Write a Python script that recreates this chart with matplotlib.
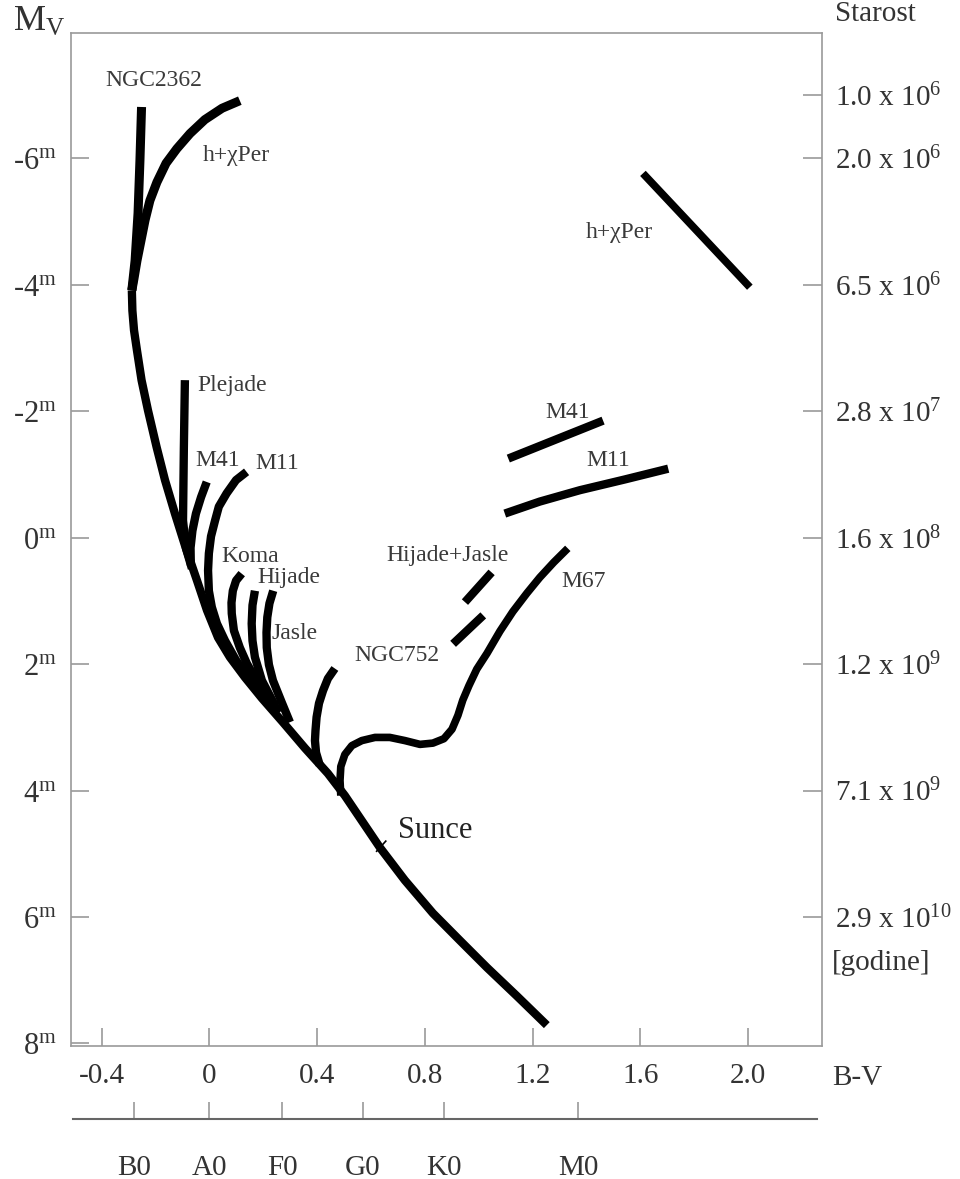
import matplotlib.pyplot as plt

plt.rcParams['font.family'] = ['Liberation Serif', 'DejaVu Serif']
plt.rcParams['mathtext.fontset'] = 'custom'
plt.rcParams['mathtext.rm'] = 'Liberation Serif'
plt.rcParams['mathtext.it'] = 'Liberation Serif:italic'

# main sequence (B-V, Mv)
ms_bv = [-0.288, -0.286, -0.280, -0.269, -0.252, -0.228, -0.196, -0.165, -0.128, -0.091,
         -0.046, -0.009, 0.032, 0.076, 0.132, 0.195, 0.273, 0.355, 0.440, 0.503,
         0.633, 0.726, 0.830, 0.930, 1.031, 1.142, 1.253]
ms_mv = [-3.91, -3.59, -3.28, -2.96, -2.49, -2.01, -1.43, -0.91, -0.38, 0.12,
         0.68, 1.15, 1.58, 1.89, 2.21, 2.54, 2.92, 3.33, 3.73, 4.08,
         4.90, 5.42, 5.94, 6.37, 6.80, 7.25, 7.71]

# cluster turn-off branches
ngc2362_bv = [-0.252, -0.258, -0.265, -0.276, -0.288]
ngc2362_mv = [-6.81, -5.96, -5.13, -4.38, -3.91]
hchi_bv = [0.113, 0.047, -0.017, -0.072, -0.121, -0.161, -0.195, -0.221, -0.239, -0.254, -0.269, -0.280, -0.288]
hchi_mv = [-6.91, -6.79, -6.61, -6.39, -6.15, -5.92, -5.62, -5.33, -5.02, -4.70, -4.38, -4.10, -3.91]
plejade_bv = [-0.091, -0.095, -0.098, -0.087, -0.065]
plejade_mv = [-2.49, -1.38, -0.27, 0.17, 0.49]
m41_bv = [-0.010, -0.031, -0.050, -0.063, -0.070, -0.069]
m41_mv = [-0.88, -0.64, -0.38, -0.11, 0.16, 0.44]
m11_bv = [0.138, 0.099, 0.064, 0.035, 0.021, 0.006, -0.002, -0.005, -0.002, 0.009, 0.028, 0.058, 0.099, 0.162]
m11_mv = [-1.04, -0.91, -0.70, -0.49, -0.27, -0.02, 0.25, 0.52, 0.84, 1.10, 1.36, 1.63, 1.94, 2.31]
koma_bv = [0.120, 0.099, 0.087, 0.082, 0.083, 0.091, 0.113, 0.139, 0.175, 0.217, 0.262]
koma_mv = [0.57, 0.68, 0.84, 1.03, 1.20, 1.47, 1.74, 1.99, 2.26, 2.53, 2.76]
hijade_bv = [0.169, 0.160, 0.157, 0.160, 0.169, 0.195, 0.243]
hijade_mv = [0.84, 1.07, 1.36, 1.63, 1.89, 2.26, 2.65]
jasle_bv = [0.237, 0.223, 0.215, 0.212, 0.213, 0.221, 0.236, 0.269, 0.299]
jasle_mv = [0.84, 1.04, 1.26, 1.50, 1.74, 2.01, 2.26, 2.61, 2.92]
ngc752_bv = [0.466, 0.440, 0.422, 0.407, 0.398, 0.394, 0.392, 0.396, 0.410]
ngc752_mv = [2.07, 2.23, 2.42, 2.62, 2.84, 3.05, 3.21, 3.40, 3.60]
m67_bv = [0.488, 0.485, 0.488, 0.503, 0.529, 0.566, 0.615, 0.670, 0.726, 0.782, 0.830, 0.871,
          0.901, 0.923, 0.941, 0.964, 0.993, 1.031, 1.079, 1.127, 1.179, 1.227, 1.279, 1.331]
m67_mv = [4.08, 3.84, 3.62, 3.43, 3.29, 3.21, 3.16, 3.16, 3.21, 3.27, 3.25, 3.18,
          3.03, 2.81, 2.57, 2.34, 2.08, 1.83, 1.48, 1.17, 0.88, 0.63, 0.39, 0.17]

# giant branches (short segments)
hj_giant1_bv = [0.949, 1.048]
hj_giant1_mv = [1.02, 0.55]
hj_giant2_bv = [0.905, 1.017]
hj_giant2_mv = [1.68, 1.23]
m41_giant_bv = [1.110, 1.462]
m41_giant_mv = [-1.25, -1.85]
m11_giant_bv = [1.097, 1.227, 1.376, 1.543, 1.704]
m11_giant_mv = [-0.38, -0.57, -0.75, -0.92, -1.09]
hchi_giant_bv = [1.610, 2.007]
hchi_giant_mv = [-5.76, -3.96]

sun_bv, sun_mv = 0.633, 4.90

mv_ticks = [-6, -4, -2, 0, 2, 4, 6, 8]
bv_ticks = [-0.4, 0, 0.4, 0.8, 1.2, 1.6, 2.0]
bv_labels = ['-0.4', '0', '0.4', '0.8', '1.2', '1.6', '2.0']
age_mv = [-7, -6, -4, -2, 0, 2, 4, 6]
age_labels = ['1.0 x 10$^{6}$', '2.0 x 10$^{6}$', '6.5 x 10$^{6}$', '2.8 x 10$^{7}$',
              '1.6 x 10$^{8}$', '1.2 x 10$^{9}$', '7.1 x 10$^{9}$', '2.9 x 10$^{10}$']
spec_types = ['B0', 'A0', 'F0', 'G0', 'K0', 'M0']
spec_bv = [-0.28, 0.0, 0.27, 0.57, 0.87, 1.37]

grey = '#9a9a9a'
tcol = '#333333'

fig = plt.figure(figsize=(9.6, 11.79), dpi=100)
ax = fig.add_axes([71/960, 133/1179, 751/960, 1013/1179])
ax.set_xlim(-0.514, 2.275)
ax.set_ylim(8.04, -7.98)

curves = [(ms_bv, ms_mv, 6.0), (ngc2362_bv, ngc2362_mv, 6.5), (hchi_bv, hchi_mv, 6.5),
          (plejade_bv, plejade_mv, 6.0), (m41_bv, m41_mv, 6.0), (m11_bv, m11_mv, 6.0),
          (koma_bv, koma_mv, 6.0), (hijade_bv, hijade_mv, 6.0), (jasle_bv, jasle_mv, 6.0),
          (ngc752_bv, ngc752_mv, 6.0), (m67_bv, m67_mv, 5.5),
          (hj_giant1_bv, hj_giant1_mv, 6.0), (hj_giant2_bv, hj_giant2_mv, 6.0),
          (m41_giant_bv, m41_giant_mv, 6.0), (m11_giant_bv, m11_giant_mv, 6.0),
          (hchi_giant_bv, hchi_giant_mv, 5.5)]
for xs, ys, lw in curves:
    ax.plot(xs, ys, color='black', lw=lw, solid_capstyle='butt', solid_joinstyle='round')

# Sun tick
ax.plot([sun_bv - 0.012, sun_bv + 0.022], [sun_mv + 0.06, sun_mv - 0.10], color='black', lw=1.2)

lab = dict(fontsize=17, color='#3a3a3a', va='center', ha='left')
ax.text(-0.388, -7.23, 'NGC2362', **lab)
ax.text(-0.024, -6.04, 'h+χPer', **lab)
ax.text(1.398, -4.83, 'h+χPer', **lab)
ax.text(-0.043, -2.41, 'Plejade', **lab)
ax.text(-0.051, -1.22, 'M41', **lab)
ax.text(0.169, -1.17, 'M11', **lab)
ax.text(0.045, 0.30, 'Koma', **lab)
ax.text(0.178, 0.63, 'Hijade', **lab)
ax.text(0.231, 1.51, 'Jasle', **lab)
ax.text(0.540, 1.86, 'NGC752', **lab)
ax.text(0.658, 0.28, 'Hijade+Jasle', **lab)
ax.text(1.308, 0.70, 'M67', **lab)
ax.text(1.246, -1.98, 'M41', **lab)
ax.text(1.401, -1.22, 'M11', **lab)
ax.text(0.700, 4.63, 'Sunce', fontsize=22, color='#222222', va='center', ha='left')

for s in ax.spines.values():
    s.set_color(grey)
    s.set_linewidth(1.2)
ax.set_yticks(mv_ticks)
ax.set_yticklabels([r'%d$^{\rm m}$' % v if v >= 0 else '-%d$^{\\rm m}$' % (-v) for v in mv_ticks])
ax.set_xticks(bv_ticks)
ax.set_xticklabels(bv_labels)
ax.tick_params(axis='both', direction='in', length=13, width=1.2, color=grey,
               labelcolor=tcol, labelsize=21)
ax.tick_params(axis='y', pad=10, labelsize=22)
ax.tick_params(axis='x', pad=12)

ax2 = ax.twinx()
ax2.set_ylim(ax.get_ylim())
ax2.set_yticks(age_mv)
ax2.set_yticklabels(age_labels)
ax2.tick_params(axis='y', direction='in', length=14, width=1.2, color=grey,
                labelcolor=tcol, labelsize=21, pad=9)
for s in ax2.spines.values():
    s.set_visible(False)

# spectral type axis
ax3 = fig.add_axes([73/960, 60/1179, 744/960, 0.0001])
ax3.set_xlim(-0.5067, 2.256)
ax3.set_yticks([])
for k in ['top', 'left', 'right']:
    ax3.spines[k].set_visible(False)
ax3.spines['bottom'].set_color('#666666')
ax3.spines['bottom'].set_linewidth(1.5)
ax3.set_xticks(spec_bv)
ax3.set_xticklabels(spec_types)
ax3.tick_params(axis='x', direction='in', length=12, width=1.2, color=grey,
                labelcolor=tcol, labelsize=21, pad=26)
ax3.patch.set_visible(False)

fig.text(13/960, 1 - 22/1179, r'M$_{\rm V}$', fontsize=26, color=tcol, va='center', ha='left')
fig.text(835/960, 1 - 14/1179, 'Starost', fontsize=21, color=tcol, va='center', ha='left')
fig.text(832/960, 1 - 963/1179, '[godine]', fontsize=21, color=tcol, va='center', ha='left')
fig.text(832/960, 1 - 1078/1179, 'B-V', fontsize=21, color=tcol, va='center', ha='left')

fig.savefig('out.png', dpi=100)
